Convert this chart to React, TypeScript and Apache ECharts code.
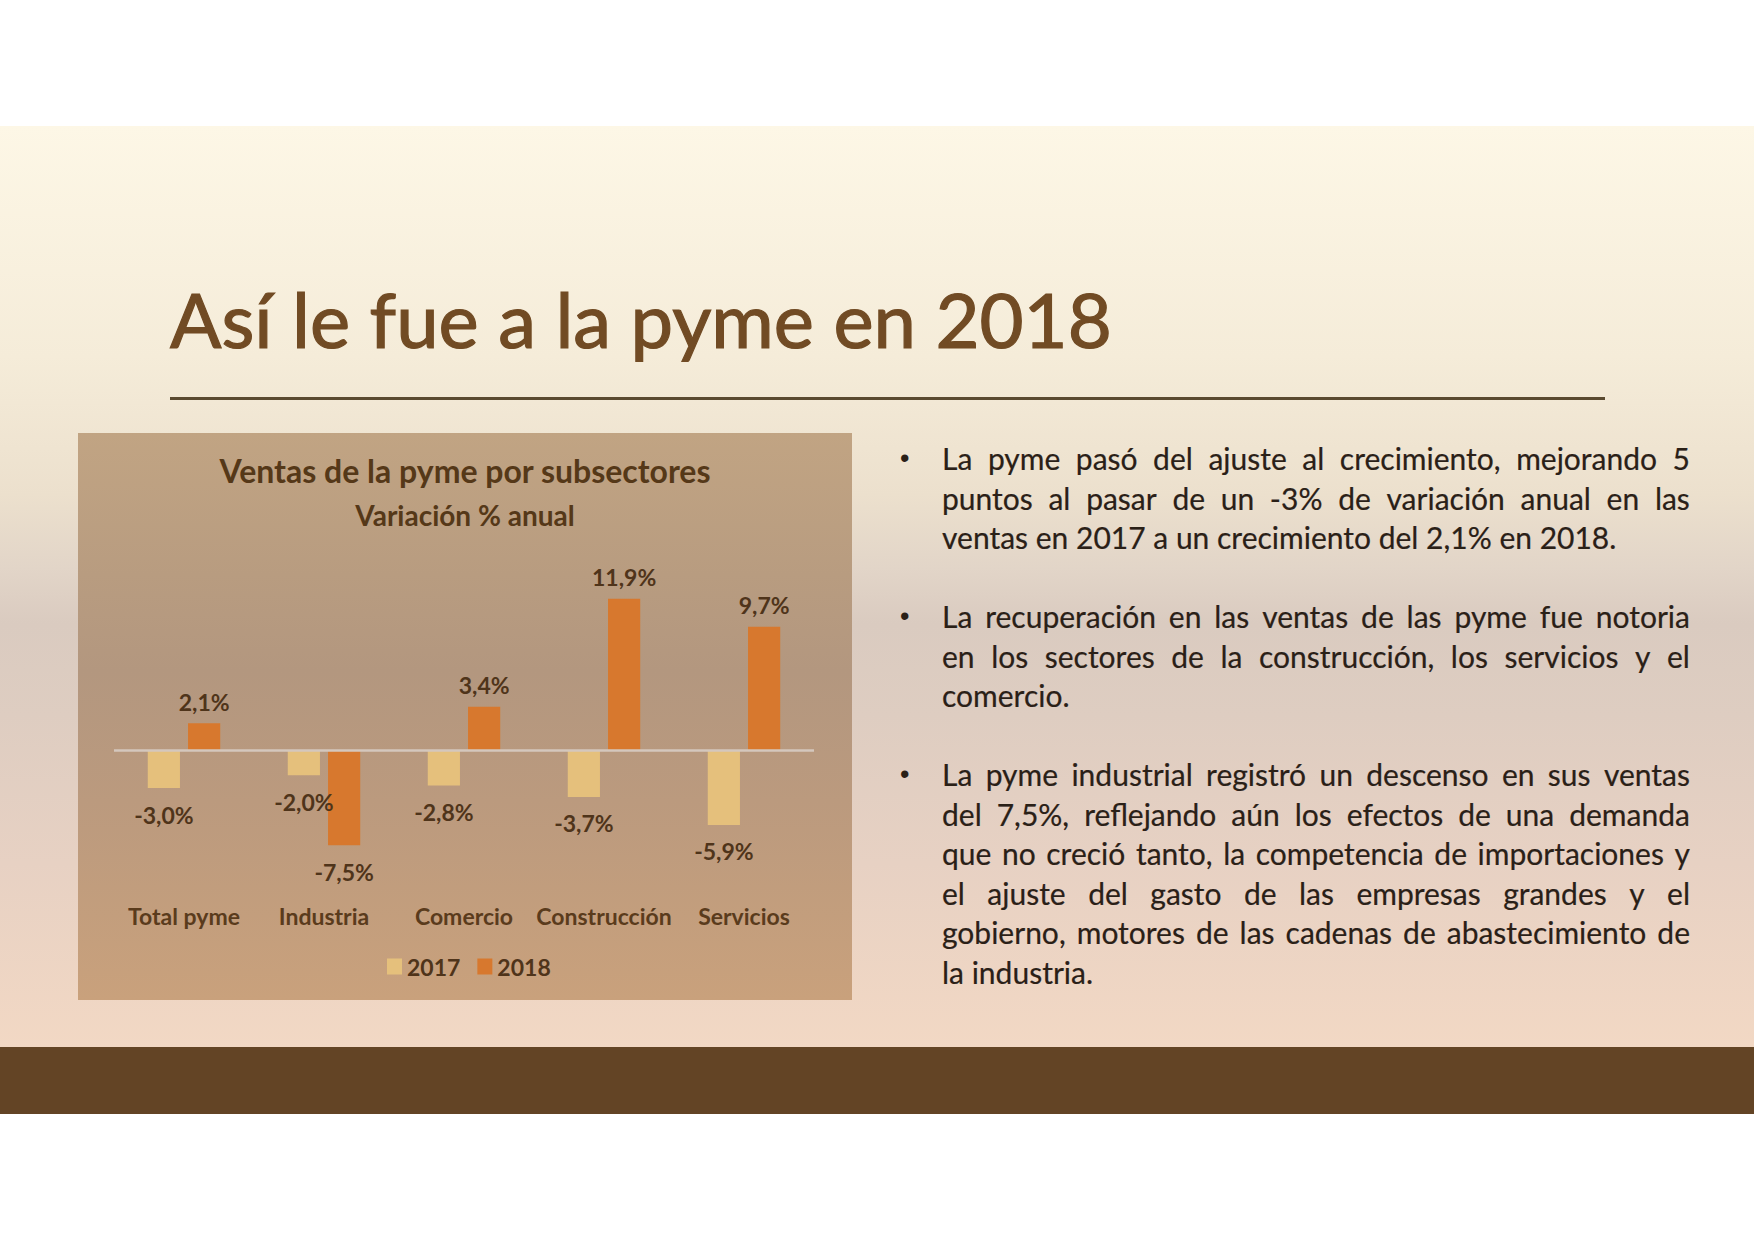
import React, { useEffect, useRef } from "react";
import * as echarts from "echarts";

const categories = ["Total pyme", "Industria", "Comercio", "Construcción", "Servicios"];
const values2017 = [-3.0, -2.0, -2.8, -3.7, -5.9];
const values2018 = [2.1, -7.5, 3.4, 11.9, 9.7];
const seriesNames = ["2017", "2018"];

const pageTitle = "Así le fue a la pyme en 2018";
const chartTitle = "Ventas de la pyme por subsectores";
const chartSubtitle = "Variación % anual";

const bullets: string[][] = [
  [
    "La pyme pasó del ajuste al crecimiento, mejorando 5",
    "puntos al pasar de un -3% de variación anual en las",
    "ventas en 2017 a un crecimiento del 2,1% en 2018.",
  ],
  [
    "La recuperación en las ventas de las pyme fue notoria",
    "en los sectores de la construcción, los servicios y el",
    "comercio.",
  ],
  [
    "La pyme industrial registró un descenso en sus ventas",
    "del 7,5%, reflejando aún los efectos de una demanda",
    "que no creció tanto, la competencia de importaciones y",
    "el ajuste del gasto de las empresas grandes y el",
    "gobierno, motores de las cadenas de abastecimiento de",
    "la industria.",
  ],
];

const FONT = "Lato, 'Open Sans', sans-serif";
const LABEL_COLOR = "#4F341A";

function fmt(v: number) {
  return v.toFixed(1).replace(".", ",") + "%";
}

function withLabels(vals: number[]) {
  return vals.map((v) => ({
    value: v,
    label: {
      position: v >= 0 ? "top" : "bottom",
      distance: v >= 0 ? 10 : 15,
    },
  }));
}

function ChartBox() {
  const ref = useRef<HTMLDivElement>(null);
  useEffect(() => {
    if (!ref.current) return;
    const chart = echarts.init(ref.current, null, { renderer: "svg" });
    const labelStyle = {
      show: true,
      formatter: (p: any) => fmt(p.value),
      fontFamily: FONT,
      fontWeight: "bold",
      fontSize: 23,
      color: LABEL_COLOR,
    };
    chart.setOption({
      animation: false,
      backgroundColor: "transparent",
      textStyle: { fontFamily: FONT },
      title: [
        {
          text: chartTitle,
          left: "center",
          top: 21,
          padding: 0,
          textStyle: { fontFamily: FONT, fontWeight: "bold", fontSize: 32, color: "#553818" },
        },
        {
          text: chartSubtitle,
          left: "center",
          top: 68,
          padding: 0,
          textStyle: { fontFamily: FONT, fontWeight: "bold", fontSize: 28, color: "#553818" },
        },
      ],
      legend: {
        data: seriesNames,
        left: 309,
        top: 522,
        itemWidth: 15,
        itemHeight: 16,
        itemGap: 17,
        icon: "rect",
        padding: 0,
        textStyle: { fontFamily: FONT, fontWeight: "bold", fontSize: 23, color: LABEL_COLOR },
      },
      grid: { left: 36, right: 38, top: 139, bottom: 123, containLabel: false },
      xAxis: {
        type: "category",
        data: categories,
        axisLine: { show: false },
        axisTick: { show: false },
        axisLabel: {
          margin: 27,
          fontFamily: FONT,
          fontWeight: "bold",
          fontSize: 23,
          color: "#5A3B1C",
          interval: 0,
        },
      },
      yAxis: {
        type: "value",
        min: -10,
        max: 14,
        show: false,
        splitLine: { show: false },
      },
      series: [
        {
          name: seriesNames[0],
          type: "bar",
          barWidth: "23%",
          barGap: "25%",
          itemStyle: { color: "#E5C07C" },
          label: labelStyle,
          data: withLabels(values2017),
          markLine: {
            silent: true,
            symbol: "none",
            label: { show: false },
            lineStyle: { color: "#D4C7BD", width: 2.5, type: "solid" },
            data: [{ yAxis: 0 }],
          },
        },
        {
          name: seriesNames[1],
          type: "bar",
          barWidth: "23%",
          barGap: "25%",
          itemStyle: { color: "#D7782E" },
          label: labelStyle,
          data: withLabels(values2018),
        },
      ],
    });
    return () => chart.dispose();
  }, []);
  return (
    <div
      style={{
        position: "absolute",
        left: 78,
        top: 433,
        width: 774,
        height: 567,
        background:
          "linear-gradient(to bottom, #C1A483 0%, #B89C80 25%, #B3977F 42%, #BB9A7E 65%, #C9A17C 100%)",
      }}
    >
      <div ref={ref} style={{ width: 774, height: 567 }} />
    </div>
  );
}

const BODY_SIZE = 30;

function JustLine({ text, last, top }: { text: string; last: boolean; top: number }) {
  const base: React.CSSProperties = {
    position: "absolute",
    left: 942,
    width: 748,
    top,
    height: 39.5,
    lineHeight: "39.5px",
    fontSize: BODY_SIZE,
    fontFamily: FONT,
    color: "#2A2017",
    whiteSpace: "nowrap",
    WebkitTextStroke: "0.2px #2A2017",
  };
  if (last) {
    return <div style={base}>{text}</div>;
  }
  const words = text.split(" ");
  return (
    <div style={{ ...base, display: "flex", justifyContent: "space-between" }}>
      {words.map((w, i) => (
        <span key={i}>{w}</span>
      ))}
    </div>
  );
}

export default function App() {
  const LINE = 39.5;
  const TOP0 = 439;
  const lines: React.ReactNode[] = [];
  let idx = 0;
  bullets.forEach((para, pi) => {
    lines.push(
      <div
        key={"b" + pi}
        style={{
          position: "absolute",
          left: 900,
          top: TOP0 + idx * LINE,
          height: LINE,
          lineHeight: LINE + "px",
          fontSize: 27,
          fontFamily: "Arial, 'Liberation Sans', sans-serif",
          color: "#2A2017",
        }}
      >
        •
      </div>
    );
    para.forEach((t, li) => {
      lines.push(
        <JustLine key={pi + "-" + li} text={t} last={li === para.length - 1} top={TOP0 + idx * LINE} />
      );
      idx++;
    });
    idx++;
  });

  return (
    <div
      style={{
        position: "absolute",
        left: 0,
        top: 0,
        width: 1754,
        height: 1240,
        background: "#FFFFFF",
        overflow: "hidden",
      }}
    >
      <div
        style={{
          position: "absolute",
          left: 0,
          top: 126,
          width: 1754,
          height: 921,
          background:
            "linear-gradient(to bottom, #FDF7E6 0%, #F5ECD9 25%, #ECE0CD 40%, #E2D5C8 48%, #DACBC0 54%, #DECDC1 64%, #E7D1C3 80%, #F2D8C4 100%)",
        }}
      />
      <div
        style={{
          position: "absolute",
          left: 0,
          top: 1047,
          width: 1754,
          height: 67,
          background: "#634425",
        }}
      />
      <div
        style={{
          position: "absolute",
          left: 170,
          top: 281,
          fontSize: 76,
          lineHeight: "76px",
          fontFamily: FONT,
          color: "#714B24",
          whiteSpace: "nowrap",
          WebkitTextStroke: "1.2px #714B24",
        }}
      >
        {pageTitle}
      </div>
      <div
        style={{
          position: "absolute",
          left: 170,
          top: 397,
          width: 1435,
          height: 2.5,
          background: "#5A4A30",
        }}
      />
      <ChartBox />
      {lines}
    </div>
  );
}
